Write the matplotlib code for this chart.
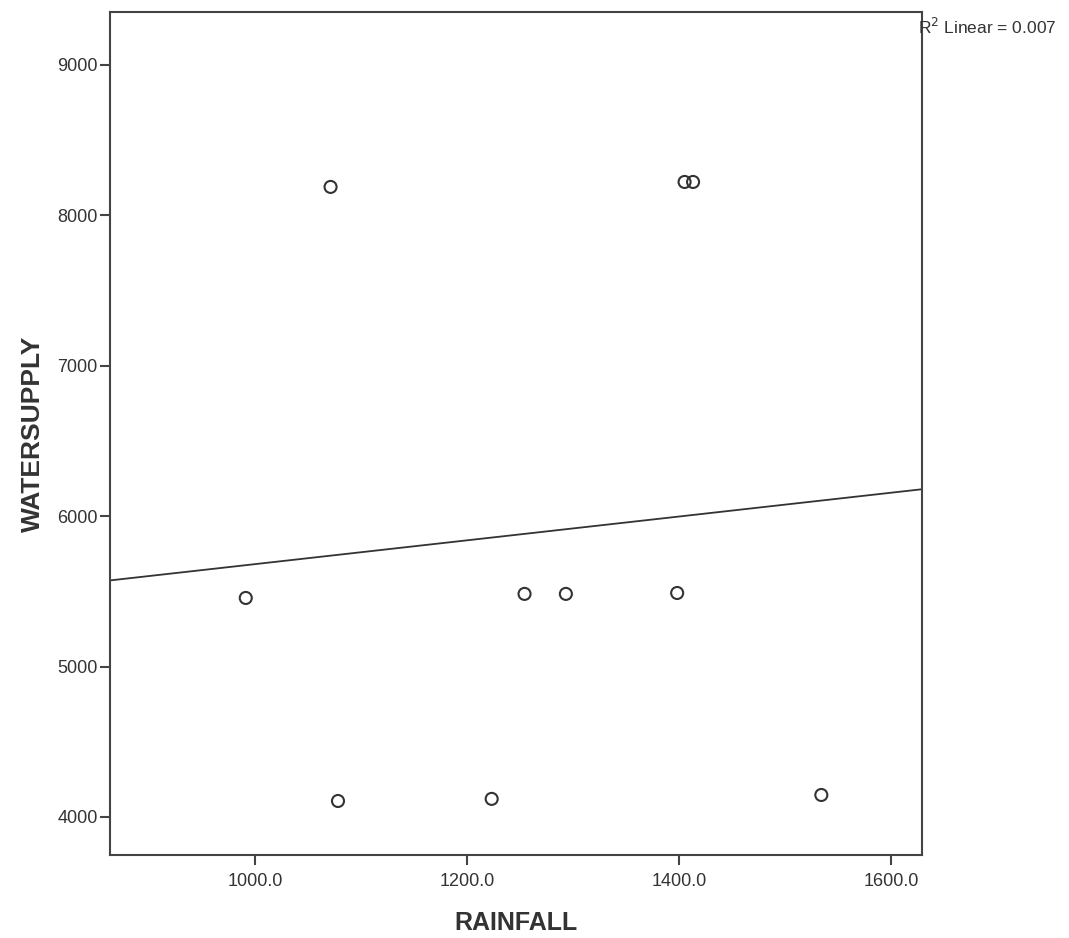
import numpy as np
import matplotlib
matplotlib.use("Agg")
import matplotlib.pyplot as plt

# Data
rainfall = [1071, 1405, 1413, 991, 1254, 1293, 1398, 1078, 1223, 1534]
watersupply = [8189, 8222, 8222, 5456, 5483, 5483, 5489, 4106, 4120, 4146]
x_ticks = [1000, 1200, 1400, 1600]
y_ticks = [4000, 5000, 6000, 7000, 8000, 9000]
x_label = "RAINFALL"
y_label = "WATERSUPPLY"

plt.rcParams['font.family'] = ['Liberation Sans', 'DejaVu Sans']

fig = plt.figure(figsize=(10.69, 9.38), dpi=100)
ax = fig.add_axes([0.103, 0.0885, 0.7595, 0.8987])

x = np.array(rainfall, dtype=float)
y = np.array(watersupply, dtype=float)
ax.scatter(x, y, s=75, facecolors='none', edgecolors='#333333', linewidths=1.5, zorder=3)

xmin, xmax = 863, 1629
ymin, ymax = 3747, 9352
slope, intercept = np.polyfit(x, y, 1)
xs = np.array([xmin, xmax])
ax.plot(xs, slope * xs + intercept, color='#333333', lw=1.3, zorder=2)

r2 = np.corrcoef(x, y)[0, 1] ** 2

ax.set_xlim(xmin, xmax)
ax.set_ylim(ymin, ymax)
ax.set_xticks(x_ticks)
ax.set_xticklabels([f"{v:.1f}" for v in x_ticks])
ax.set_yticks(y_ticks)
ax.set_yticklabels([str(v) for v in y_ticks])

for sp in ax.spines.values():
    sp.set_color('#444444')
    sp.set_linewidth(1.5)
ax.tick_params(direction='out', length=7, width=1.5, color='#444444',
               labelsize=13, labelcolor='#333333')
ax.tick_params(axis='x', pad=6)
ax.tick_params(axis='y', pad=2)

ax.set_xlabel(x_label, fontsize=18, fontweight='bold', color='#333333', labelpad=15)
ax.set_ylabel(y_label, fontsize=19, fontweight='bold', color='#333333', labelpad=9)

fig.text(0.859, 0.971, f"R$^2$ Linear = {r2:.3f}", fontsize=12.5, color='#333333',
         ha='left', va='center')

fig.savefig("out.png", dpi=100, facecolor='white')
